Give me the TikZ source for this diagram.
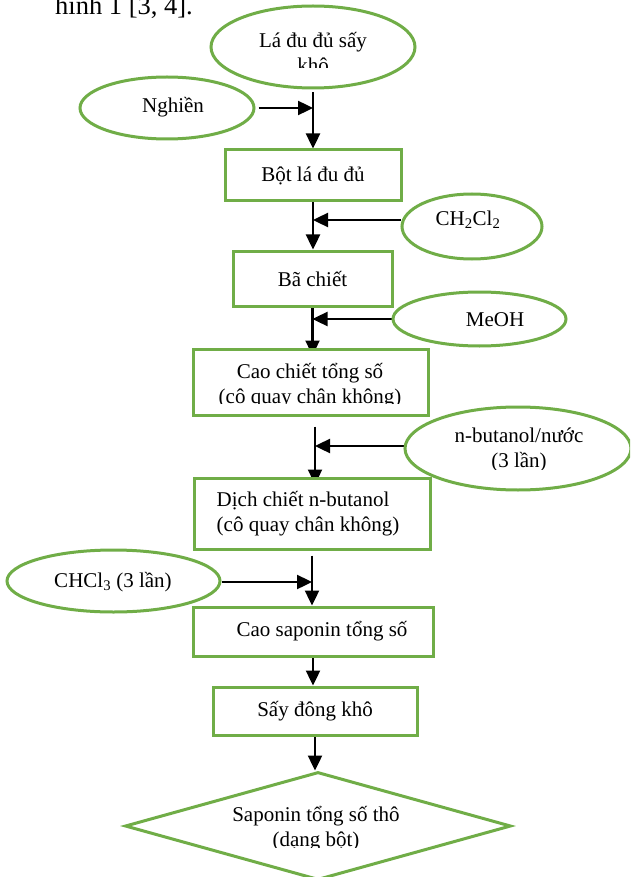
\documentclass[tikz,border=0pt]{standalone}
\usepackage{fontspec}
\setmainfont{Liberation Serif}
\usetikzlibrary{arrows.meta,shapes.geometric,backgrounds}
\definecolor{grn}{RGB}{112,173,71}
\begin{document}
\begin{tikzpicture}[x=1pt,y=-1pt,font=\fontsize{21}{25}\selectfont,
  gbox/.style={draw=grn,line width=3pt,fill=white,rectangle,inner sep=0pt},
  gell/.style={draw=grn,line width=3pt,fill=white,ellipse,inner sep=0pt},
  gdia/.style={draw=grn,line width=3pt,fill=white,diamond,inner sep=0pt},
  arr/.style={-{Triangle[length=15pt,width=14pt]},line width=2.4pt,black},
  lbl/.style={inner sep=0pt,align=center}]
\clip (0,0) rectangle (630,877);
% heading text
\node[inner sep=0pt,anchor=base west,font=\fontsize{26.5}{30}\selectfont] (head) at (55,15) {hình 1 [3, 4].};
% shapes
\node[gell,minimum width=204pt,minimum height=82pt] (top) at (313,47) {};
\node[gell,minimum width=174pt,minimum height=62pt] (ngh) at (167,108) {};
\node[gbox,minimum width=176pt,minimum height=51pt] (bot) at (313,175.5) {Bột lá đu đủ};
\node[gell,minimum width=140pt,minimum height=65pt] (ch) at (472,226.5) {};
\node[gbox,minimum width=159pt,minimum height=55pt] (ba) at (312.5,278.5) {Bã chiết};
\node[gell,minimum width=173pt,minimum height=54pt] (me) at (479.5,319) {};
\node[gbox,minimum width=235pt,minimum height=66pt] (cao) at (310.5,382) {};
\node[gell,minimum width=226pt,minimum height=83pt] (nb) at (518,448.5) {};
\node[gbox,minimum width=236pt,minimum height=71pt,align=left] (dich) at (312,513.5) {Dịch chiết n-butanol\\(cô quay chân không)\hspace*{8pt}};
\node[gell,minimum width=213pt,minimum height=62pt] (chcl) at (113.5,581) {};
\node[gbox,minimum width=240pt,minimum height=49pt] (sap) at (313,631.5) {\hspace*{18pt}Cao saponin tổng số};
\node[gbox,minimum width=204pt,minimum height=48pt] (say) at (315,711) {Sấy đông khô};
\node[gdia,minimum width=386pt,minimum height=108pt] (dia) at (318,826) {};
% texts
\begin{scope}
\clip (205,0) rectangle (420,68);
\node[lbl] (topt) at (313,52.5) {Lá đu đủ sấy\\khô};
\end{scope}
\node[lbl] (nght) at (173,107) {Nghiền};
\node[lbl] (cht) at (468,220) {CH\textsubscript{2}Cl\textsubscript{2}};
\node[lbl] (met) at (495,320) {MeOH};
\begin{scope}
\clip (195,350) rectangle (428,403);
\node[lbl] (caot) at (310,385.5) {Cao chiết tổng số\\(cô quay chân không)};
\end{scope}
\begin{scope}
\clip (405,400) rectangle (630,469);
\node[lbl] (nbt) at (519,450) {n-butanol/nước\\(3 lần)};
\end{scope}
\node[lbl] (chclt) at (113,582) {CHCl\textsubscript{3} (3 lần)};
\begin{scope}
\clip (125,772) rectangle (511,847);
\node[lbl] (diat) at (316,829) {Saponin tổng số thô\\(dạng bột)};
\end{scope}
% connectors
\begin{scope}[on background layer]
\draw[arr] ([yshift=-3pt]top.south) -- (bot.north);
\draw[arr] ([xshift=3pt]ngh.east) -- (ngh.east -| top.south);
\draw[arr] (bot.south) -- (ba.north -| bot.south);
\draw[arr] ([yshift=6.5pt]ch.west) -- ([yshift=6.5pt]ch.west -| bot.south);
\draw[arr] (ba.south) -- ([yshift=-8pt]cao.north -| ba.south);
\draw[arr] (me.west) -- (me.west -| ba.south);
\coordinate (t3) at ([xshift=4.5pt]cao.south);
\draw[arr] ([yshift=-10pt]t3) -- ([yshift=-8pt]t3 |- dich.north);
\draw[arr] ([yshift=2.5pt]nb.west) -- ([yshift=2.5pt]nb.west -| t3);
\draw[arr] ([yshift=-5pt]dich.south) -- (sap.north -| dich.south);
\draw[arr] ([yshift=-1pt]chcl.east) -- ([yshift=-1pt]chcl.east -| dich.south);
\draw[arr] (sap.south) -- (sap.south |- say.north);
\draw[arr] (say.south) -- (say.south |- dia.north);
\end{scope}
\end{tikzpicture}
\end{document}
